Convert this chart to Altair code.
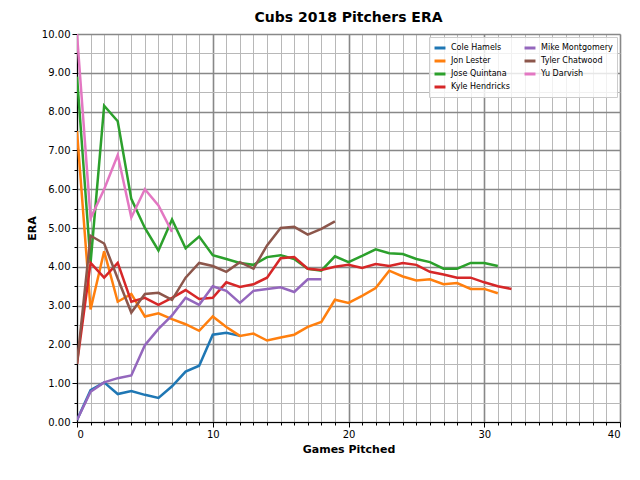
import altair as alt
import pandas as pd

hamels = [0.05, 0.82, 1.02, 0.72, 0.80, 0.70, 0.62, 0.92, 1.30, 1.45, 2.25, 2.30, 2.22]
lester = [7.5, 2.9, 4.4, 3.1, 3.3, 2.72, 2.8, 2.65, 2.52, 2.35, 2.72, 2.45, 2.22, 2.28, 2.1, 2.18,
          2.25, 2.45, 2.58, 3.15, 3.07, 3.25, 3.45, 3.9, 3.75, 3.65, 3.68, 3.55, 3.58, 3.43, 3.43, 3.32]
quintana = [8.9, 4.1, 8.15, 7.75, 5.75, 5.0, 4.42, 5.22, 4.48, 4.78, 4.3, 4.2, 4.1, 4.05, 4.25, 4.3,
            4.2, 3.95, 3.9, 4.27, 4.12, 4.28, 4.45, 4.35, 4.33, 4.2, 4.12, 3.95, 3.95, 4.1, 4.1, 4.02]
hendricks = [1.5, 4.1, 3.72, 4.1, 3.1, 3.2, 3.02, 3.2, 3.4, 3.17, 3.2, 3.6, 3.48, 3.55, 3.72, 4.22,
             4.25, 3.95, 3.92, 4.0, 4.05, 3.97, 4.07, 4.02, 4.1, 4.05, 3.87, 3.8, 3.72, 3.72, 3.6, 3.5, 3.43]
montgomery = [0.05, 0.78, 1.02, 1.13, 1.2, 1.98, 2.4, 2.75, 3.2, 3.02, 3.5, 3.38, 3.07, 3.38, 3.43,
              3.47, 3.35, 3.68, 3.68]
chatwood = [1.5, 4.8, 4.6, 3.7, 2.82, 3.3, 3.33, 3.15, 3.72, 4.1, 4.02, 3.87, 4.12, 3.95, 4.55, 5.0,
            5.03, 4.83, 4.98, 5.17]
darvish = [10.0, 5.25, 6.0, 6.88, 5.27, 6.0, 5.58, 4.9]

pitchers = ["Cole Hamels", "Jon Lester", "Jose Quintana", "Kyle Hendricks",
            "Mike Montgomery", "Tyler Chatwood", "Yu Darvish"]
series = [hamels, lester, quintana, hendricks, montgomery, chatwood, darvish]
colors = ["#1f77b4", "#ff7f0e", "#2ca02c", "#d62728", "#9467bd", "#8c564b", "#e377c2"]

rows = []
for name, vals in zip(pitchers, series):
    for g, v in enumerate(vals):
        rows.append({"pitcher": name, "games": g, "era": v})
df = pd.DataFrame(rows)

x_ticks = list(range(0, 41))
y_ticks = [i * 0.5 for i in range(21)]

lines = alt.Chart(df).mark_line(strokeWidth=2.5, clip=True).encode(
    x=alt.X("games:Q", scale=alt.Scale(domain=[0, 40], nice=False), title="Games Pitched",
            axis=alt.Axis(values=x_ticks, labelOverlap=False,
                          labelExpr="datum.value % 10 == 0 ? format(datum.value, 'd') : ''",
                          gridColor={"expr": "datum.value % 10 == 0 ? '#888888' : '#b8b8b8'"},
                          gridWidth={"expr": "datum.value % 10 == 0 ? 1.6 : 1"},
                          tickSize={"expr": "datum.value % 10 == 0 ? 5 : 3"},
                          tickColor="black", domainColor="black")),
    y=alt.Y("era:Q", scale=alt.Scale(domain=[0, 10], nice=False), title="ERA",
            axis=alt.Axis(values=y_ticks, labelOverlap=False,
                          labelExpr="datum.value % 1 == 0 ? format(datum.value, '.2f') : ''",
                          gridColor={"expr": "datum.value % 1 == 0 ? '#888888' : '#b8b8b8'"},
                          gridWidth={"expr": "datum.value % 1 == 0 ? 1.6 : 1"},
                          tickSize={"expr": "datum.value % 1 == 0 ? 5 : 3"},
                          tickColor="black", domainColor="black")),
    color=alt.Color("pitcher:N", scale=alt.Scale(domain=pitchers, range=colors),
                    legend=alt.Legend(title=None, orient="top-right", columns=2,
                                      symbolType="stroke", symbolStrokeWidth=3, symbolSize=120,
                                      fillColor="rgba(255,255,255,0.8)", strokeColor="#ccc",
                                      padding=4, labelFontSize=8, rowPadding=0,
                                      columnPadding=8, offset=3)),
)

chart = lines.properties(
    width=543, height=388,
    title=alt.TitleParams("Cubs 2018 Pitchers ERA", fontSize=14, fontWeight="bold", offset=4),
    autosize=alt.AutoSizeParams(type="none"),
    padding={"left": 69, "top": 26, "right": 12, "bottom": 50},
).configure_view(stroke="black", strokeWidth=1.5).configure_axis(
    labelFontSize=13, titleFontSize=13, titleFontWeight="bold", labelColor="black",
    titleColor="black", grid=True,
).configure(font="DejaVu Sans")

chart.save("out.html", embed_options={"renderer": "svg", "actions": False})
